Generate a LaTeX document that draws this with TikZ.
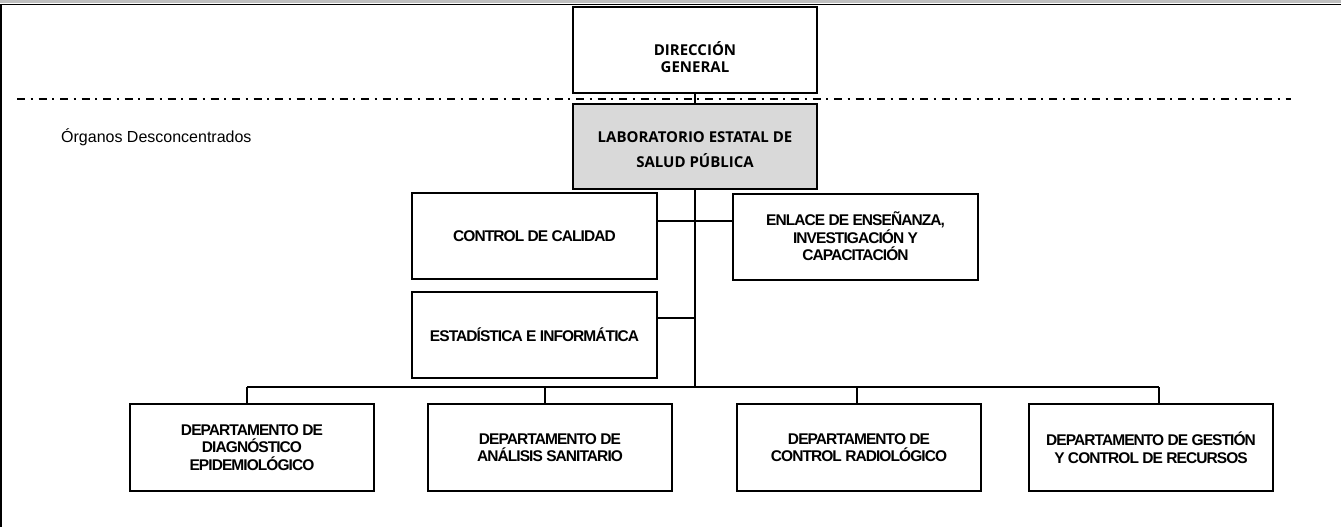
\documentclass[tikz,border=0pt]{standalone}
\usepackage{fontspec}
\setmainfont{Liberation Sans}
\newfontfamily\hdfont{Open Sans}
\newfontfamily\boxfont[LetterSpace=-6]{Liberation Sans}
\definecolor{labgray}{HTML}{D9D9D9}
\definecolor{bargray}{HTML}{BFBFBF}
\begin{document}
\begin{tikzpicture}[x=1pt,y=-1pt,
  box/.style={draw=black, line width=2pt, minimum width=244pt, minimum height=86pt,
    inner sep=0pt, align=center, font=\boxfont\bfseries\fontsize{15.5}{17.5}\selectfont},
  headtext/.style={inner sep=0pt, align=center, font=\hdfont\bfseries\fontsize{15}{17.5}\selectfont},
  conn/.style={line width=2pt},
  dashdot/.style={line width=1.3pt, dash pattern=on 8pt off 5.5pt on 2pt off 6pt}]
\useasboundingbox (0,0) rectangle (1341,527);
% frame
\fill[bargray] (0,0) rectangle (1341,3.5);
\draw[line width=1.5pt] (0,4.5) -- (1341,4.5);
\draw[line width=1.5pt] (0.75,4.5) -- (0.75,527);
% dash-dot separator
\coordinate (dl) at (17,99);
\coordinate (dr) at (1291,99);
\draw[dashdot] (dl) -- (dr);
% label
\node[anchor=base west, inner sep=0pt, font=\fontsize{16}{18}\selectfont] (org) at (61,142) {Órganos Desconcentrados};
% boxes
\node[box] (dg) at (695,50) {};
\node[headtext] (dgt) at (695,57) {DIRECCIÓN\\GENERAL};
\node[box, fill=labgray, minimum height=85pt] (lab) at (695,146.5) {};
\node[headtext, font=\hdfont\bfseries\fontsize{15}{25}\selectfont] (labt) at (695,149.5) {LABORATORIO ESTATAL DE\\SALUD PÚBLICA};
\node[box, minimum width=245pt] (cc) at (534.5,236) {CONTROL DE CALIDAD};
\node[box, minimum width=245pt] (en) at (855.5,236.5) {ENLACE DE ENSEÑANZA,\\INVESTIGACIÓN Y\\CAPACITACIÓN};
\node[box, minimum width=245pt] (est) at (534.5,335) {ESTADÍSTICA E INFORMÁTICA};
\node[box, minimum height=87pt] (b1) at (252,447.5) {DEPARTAMENTO DE\\DIAGNÓSTICO\\EPIDEMIOLÓGICO};
\node[box, minimum height=87pt] (b2) at (550,447.5) {DEPARTAMENTO DE\\ANÁLISIS SANITARIO};
\node[box, minimum height=87pt] (b3) at (859,447.5) {DEPARTAMENTO DE\\CONTROL RADIOLÓGICO};
\node[box, minimum height=87pt] (b4) at (1151,447.5) {DEPARTAMENTO DE GESTIÓN\\Y CONTROL DE RECURSOS};
% junctions
\coordinate (jcc) at (695,221);
\coordinate (jest) at (695,318);
\coordinate (trunk) at (695,387);
\coordinate (busL) at (247,387);
\coordinate (busR) at (1159,387);
\coordinate (j2) at (545,387);
\coordinate (j3) at (857,387);
% connectors
\draw[conn] (dg.south) -- (lab.north);
\draw[conn] (lab.south) -- (trunk);
\draw[conn] (cc.east |- jcc) -- (en.west |- jcc);
\draw[conn] (est.east |- jest) -- (jest);
\draw[conn] (busL) -- (busR);
\draw[conn] (busL) -- (busL |- b1.north);
\draw[conn] (j2) -- (j2 |- b2.north);
\draw[conn] (j3) -- (j3 |- b3.north);
\draw[conn] (busR) -- (busR |- b4.north);
\end{tikzpicture}
\end{document}
